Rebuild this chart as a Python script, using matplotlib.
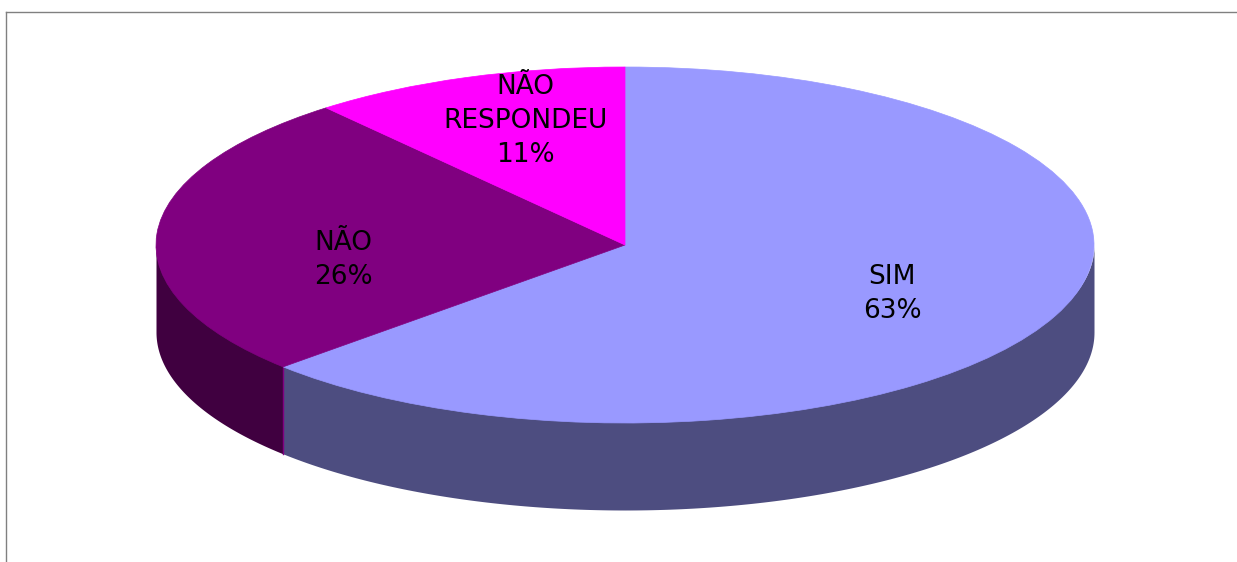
import numpy as np
import matplotlib
matplotlib.use('Agg')
import matplotlib.pyplot as plt
from matplotlib.lines import Line2D

categories = ['SIM', 'NÃO', 'NÃO\nRESPONDEU']
values = [63, 26, 11]
top_colors = ['#9999FF', '#800080', '#FF00FF']
side_colors = ['#4D4D80', '#400040', '#800080']

W, H = 1237, 562
CX, CY, RX, RY = 625, 245, 469, 178
DEPTH = 87 / RY

plt.rcParams['font.family'] = ['DejaVu Sans']

fig = plt.figure(figsize=(W / 100, H / 100), dpi=100)
ax = fig.add_axes([0, 0, 1, 1])

# pie is a unit circle, squashed by the axes limits into the ellipse
wedges, _ = ax.pie(values, colors=top_colors, startangle=90, counterclock=False,
                   wedgeprops={'linewidth': 0.5, 'zorder': 3})
for w in wedges:
    w.set_edgecolor(w.get_facecolor())
ax.set_aspect('auto')
ax.set_xlim(-CX / RX, (W - CX) / RX)
ax.set_ylim((CY - H) / RY, CY / RY)
ax.set_axis_off()

# side wall, only the front half of the ellipse shows
start = 90.0
for val, col in zip(values, side_colors):
    end = start - val * 3.6
    a0, a1 = max(end, -180), min(start, 0)
    if a1 > a0:
        t = np.radians(np.linspace(a0, a1, 200))
        # top edge tucked under the pie so no white seam shows
        ax.fill_between(np.cos(t), 0.97 * np.sin(t), np.sin(t) - DEPTH, color=col, lw=0, zorder=1)
    start = end

# seam between the two visible walls
seam = np.radians(90 - values[0] * 3.6)
ax.plot([np.cos(seam)] * 2, [np.sin(seam), np.sin(seam) - DEPTH], color='#800080', lw=1, zorder=2)

# data labels
label_pos = [(892, 294), (343, 260), (525, 121)]
for cat, val, (px, py) in zip(categories, values, label_pos):
    ax.text((px - CX) / RX, (CY - py) / RY, f'{cat}\n{val}%', ha='center', va='center',
            fontsize=19, color='black', linespacing=1.4, zorder=5)

# chart frame, right and bottom sit outside the crop
fig.add_artist(Line2D([6 / W, 6 / W], [0, 1 - 11.5 / H], color='#808080', lw=1))
fig.add_artist(Line2D([6 / W, 1], [1 - 11.5 / H, 1 - 11.5 / H], color='#808080', lw=1))

fig.savefig('out.png', dpi=100, facecolor='white')
